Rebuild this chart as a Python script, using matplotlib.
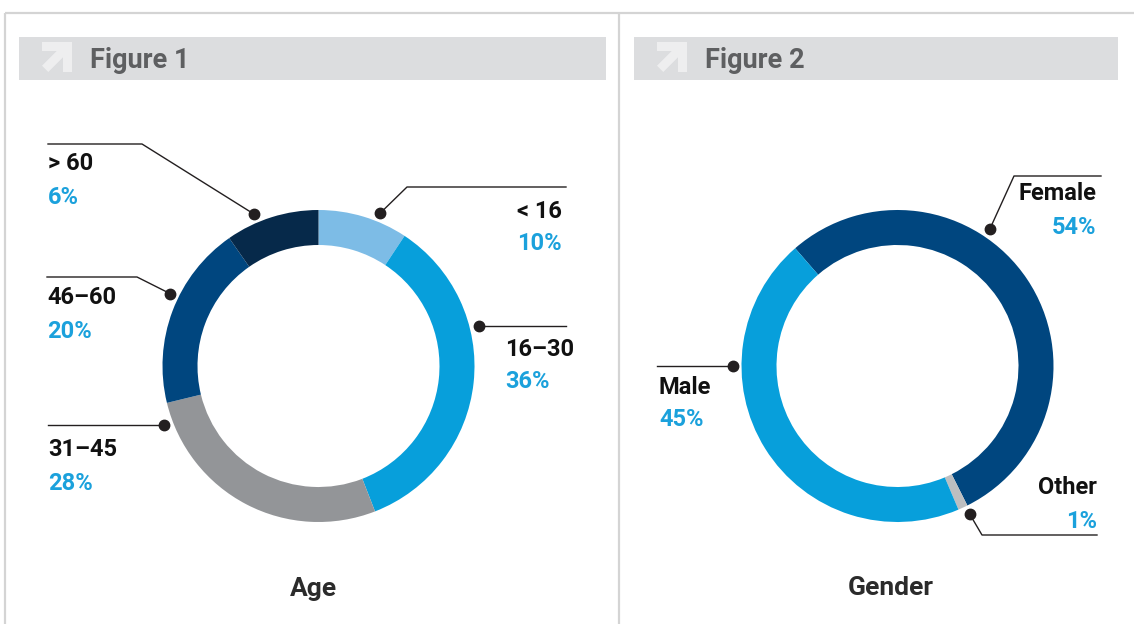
# Two donut charts: age and gender breakdown
import numpy as np
import matplotlib.pyplot as plt
from matplotlib.patches import Rectangle, Polygon

# canvas size in pixels (dpi 100)
W, H = 1134, 624

# Data
age_labels = ['< 16', '16–30', '31–45', '46–60', '> 60']
age_pct = [10, 36, 28, 20, 6]             # printed values
age_arc = [9.3, 34.8, 27.1, 19.1, 9.7]    # arc sizes as drawn in the picture
gender_labels = ['Female', 'Other', 'Male']
gender_pct = [54, 1, 45]

age_colors = ['#7dbce6', '#079fdb', '#939598', '#00467f', '#06294a']
gender_colors = ['#00467f', '#bcbec0', '#079fdb']

BLUE_TXT = '#1ba1dc'
DARK = '#231f20'

plt.rcParams['font.family'] = ['Roboto', 'DejaVu Sans']

fig = plt.figure(figsize=(W / 100, H / 100), dpi=100)
bg = fig.add_axes([0, 0, 1, 1])
bg.set_xlim(0, W)
bg.set_ylim(H, 0)   # image coordinates, y down
bg.axis('off')

# frame lines
line_kw = dict(color='#d4d4d4', lw=1.6, solid_capstyle='butt')
bg.plot([5, W], [12.7, 12.7], **line_kw)
bg.plot([5, 5], [12.7, H], **line_kw)
bg.plot([619, 619], [12.7, H], **line_kw)


def header(x0, x1, title):
    bg.add_patch(Rectangle((x0, 36.5), x1 - x0, 43, color='#dcdddf', lw=0))
    # arrow icon, unit box with y up
    pts = np.array([(0, 1), (1, 1), (1, 0), (0.7, 0), (0.7, 0.49),
                    (0.21, 0), (0, 0.21), (0.49, 0.7), (0, 0.7)])
    ix, iy, s = x0 + 23, 72, 30
    bg.add_patch(Polygon(np.c_[ix + pts[:, 0] * s, iy - pts[:, 1] * s],
                         closed=True, color='#eeeeef', lw=0))
    bg.text(x0 + 71, 60, title, fontsize=19.5, fontweight='bold',
            color='#5e5f61', va='center', ha='left')


header(19, 606, 'Figure 1')
header(634, 1118, 'Figure 2')

R = 156      # outer radius, px
RING = 35    # ring thickness, px


def donut(cx, cy, values, colors, start):
    ax = fig.add_axes([(cx - R) / W, (H - cy - R) / H, 2 * R / W, 2 * R / H])
    ax.pie(values, colors=colors, startangle=start, counterclock=False,
           radius=1, wedgeprops=dict(width=RING / R, linewidth=0))
    ax.set_xlim(-1, 1)
    ax.set_ylim(-1, 1)
    ax.axis('off')


def callout(cx, cy, ang, path, label, pct, tx, ty, ha):
    # ang: clockwise from 12 o'clock, degrees
    r = R + 9
    a = np.radians(ang)
    dx, dy = cx + r * np.sin(a), cy - r * np.cos(a)
    xs = [dx] + [p[0] for p in path]
    ys = [dy] + [p[1] if p[1] is not None else dy for p in path]
    bg.plot(xs, ys, color=DARK, lw=1.0)
    bg.plot(dx, dy, 'o', color=DARK, ms=7.5)
    bg.text(tx, ty + 1, label, fontsize=17, fontweight='bold',
            color='#111111', ha=ha, va='center')
    bg.text(tx, ty + 34, '{}%'.format(pct), fontsize=17,
            fontweight='bold', color=BLUE_TXT, ha=ha, va='center')


# Figure 1 - Age
c1 = (318.5, 366)
donut(*c1, age_arc, age_colors, 90)
age_layout = [
    # angle, leader path, text x, text y, align
    (22, [(407, 187), (566, 187)], 562, 210, 'right'),
    (76, [(566, None)], 505, 348, 'left'),
    (-111, [(48, None)], 48, 449, 'left'),
    (-64, [(137, 277), (47, 277)], 47, 297, 'left'),
    (-23, [(142, 144), (48, 144)], 48, 163, 'left'),
]
for lab, pct, (ang, path, tx, ty, ha) in zip(age_labels, age_pct, age_layout):
    callout(*c1, ang, path, lab, pct, tx, ty, ha)
bg.text(313, 589, 'Age', fontsize=19, fontweight='bold', color='#2b2b2b',
        ha='center', va='center')

# Figure 2 - Gender
c2 = (897.5, 366)
donut(*c2, gender_pct, gender_colors, 131)
gender_layout = [
    (34, [(1014, 176), (1101, 176)], 1096, 193, 'right'),
    (154, [(982, 535), (1097, 535)], 1097, 487, 'right'),
    (-90, [(657, None)], 659, 386, 'left'),
]
for lab, pct, (ang, path, tx, ty, ha) in zip(gender_labels, gender_pct,
                                             gender_layout):
    callout(*c2, ang, path, lab, pct, tx, ty, ha)
bg.text(891, 588, 'Gender', fontsize=19, fontweight='bold',
        color='#2b2b2b', ha='center', va='center')

fig.savefig('out.png', dpi=100)
